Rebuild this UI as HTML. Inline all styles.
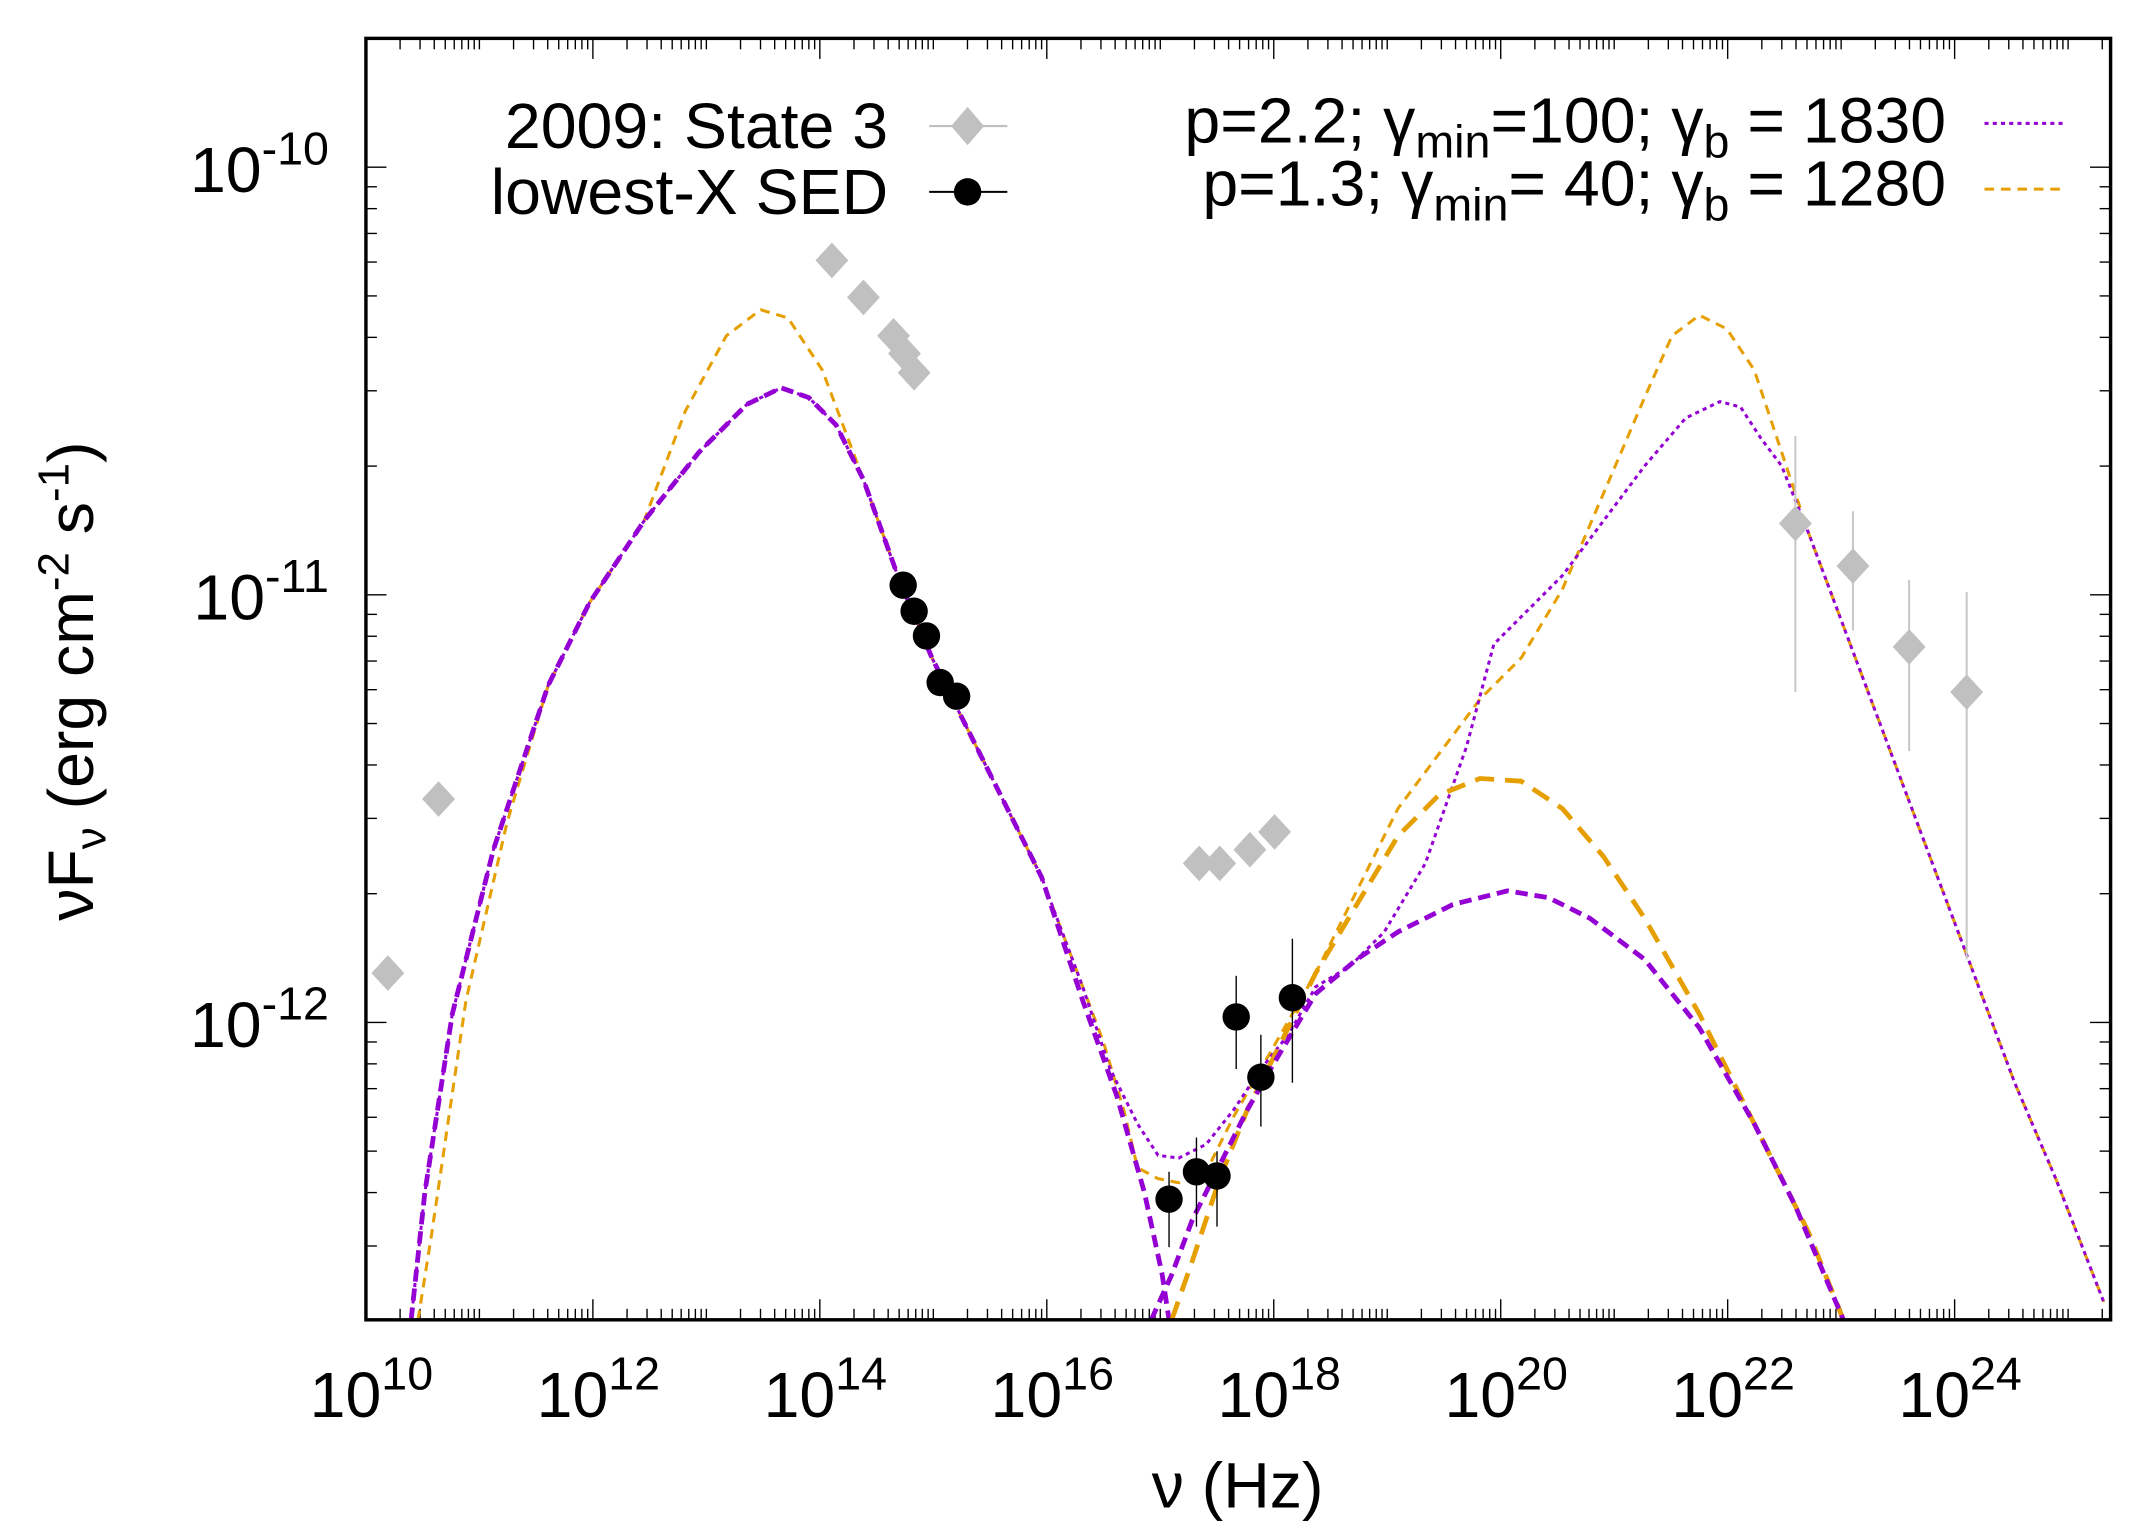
<!DOCTYPE html>
<html><head><meta charset="utf-8"><style>
html,body{margin:0;padding:0;background:#fff}
svg{display:block}
text{font-family:"Liberation Sans",sans-serif;fill:#000}
</style></head><body>
<svg id="s" width="2138" height="1538" viewBox="0 0 1560 1122.2" preserveAspectRatio="none" xmlns="http://www.w3.org/2000/svg">
<g id="ticks" stroke="#000" stroke-width="1"></g>
<g fill="none" stroke-linejoin="round">
<polyline stroke="#e69f00" stroke-width="2.2" stroke-dasharray="7,5" points="305,963 315,900 340,730 370,600 400,500 430,440 470,380 500,300 530,245 555,226 575,232 600,270 630,350 655,420 680,480 700,520 730,580 760,640 790,720 805,760 820,810 830,852 845,860 860,863 880,855 900,815 920,780 960,710 990,650 1020,590 1050,550 1080,510 1110,480 1140,430 1170,360 1200,290 1220,245 1240,230 1260,240 1280,270 1300,330 1320,390 1350,470 1380,550 1410,630 1440,710 1470,790 1500,860 1535,950"/>
<polyline stroke="#9400d3" stroke-width="2.2" stroke-dasharray="3,3" points="300,963 310,870 330,740 360,620 400,500 430,440 470,380 510,330 545,295 570,283 590,290 610,310 630,350 655,420 680,480 700,520 730,580 760,640 790,720 810,780 830,820 845,843 860,845 880,835 900,810 920,780 940,755 960,720 985,705 1010,680 1040,630 1070,545 1090,470 1110,450 1140,420 1170,380 1200,340 1230,305 1255,293 1270,297 1285,320 1300,340 1320,390 1350,470 1380,550 1410,630 1440,710 1470,790 1500,860 1535,950"/>
<polyline stroke="#9400d3" stroke-width="3.5" stroke-dasharray="9,5" points="300,963 310,870 330,740 360,620 400,500 430,440 470,380 510,330 545,295 570,283 590,290 610,310 630,350 655,420 680,480 700,520 730,580 760,640 790,730 815,800 835,870 848,930 853,963"/>
<polyline stroke="#e69f00" stroke-width="3.5" stroke-dasharray="14,8" points="855,963 870,920 890,860 910,810 935,760 960,710 990,660 1020,610 1050,580 1080,568 1110,570 1140,590 1170,625 1200,670 1240,740 1280,820 1320,900 1345,963"/>
<polyline stroke="#9400d3" stroke-width="3.5" stroke-dasharray="9,5" points="840,963 855,930 870,890 890,850 910,810 930,775 960,725 990,700 1020,680 1060,660 1100,650 1130,655 1160,670 1200,700 1240,750 1280,820 1310,880 1345,963"/>
</g>
<g id="data"></g>
<rect x="267" y="28" width="1273" height="935" fill="none" stroke="#000" stroke-width="2.5"/>
<g font-size="47">
<text x="240" y="140" text-anchor="end">10<tspan dy="-20" font-size="34">-10</tspan></text>
<text x="240" y="452" text-anchor="end">10<tspan dy="-20" font-size="34">-11</tspan></text>
<text x="240" y="764" text-anchor="end">10<tspan dy="-20" font-size="34">-12</tspan></text>
<g id="xl"></g>
<text x="903" y="1100" text-anchor="middle">ν (Hz)</text>
<text transform="translate(68,497) rotate(-90)" text-anchor="middle">νF<tspan font-size="32" dy="9">ν</tspan><tspan dy="-9"> (erg cm</tspan><tspan font-size="32" dy="-18">-2</tspan><tspan dy="18"> s</tspan><tspan font-size="32" dy="-18">-1</tspan><tspan dy="18">)</tspan></text>
<text x="648" y="108" text-anchor="end">2009: State 3</text>
<text x="648" y="156" text-anchor="end">lowest-X SED</text>
<text x="1420" y="104" text-anchor="end">p=2.2; γ<tspan font-size="34" dy="11">min</tspan><tspan dy="-11">=100; γ</tspan><tspan font-size="34" dy="11">b</tspan><tspan dy="-11"> = 1830</tspan></text>
<text x="1420" y="150" text-anchor="end">p=1.3; γ<tspan font-size="34" dy="11">min</tspan><tspan dy="-11">= 40; γ</tspan><tspan font-size="34" dy="11">b</tspan><tspan dy="-11"> = 1280</tspan></text>
</g>
<line x1="678" y1="92" x2="735" y2="92" stroke="#c0c0c0" stroke-width="1.5"/>
<polygon points="706,78 718,92 706,106 694,92" fill="#c0c0c0"/>
<line x1="678" y1="140" x2="735" y2="140" stroke="#000" stroke-width="1.5"/>
<circle cx="706" cy="140" r="10"/>
<line x1="1448" y1="90" x2="1505" y2="90" stroke="#9400d3" stroke-width="2.2" stroke-dasharray="3,3"/>
<line x1="1448" y1="138" x2="1505" y2="138" stroke="#e69f00" stroke-width="2.2" stroke-dasharray="7,5"/>
</svg>
<script>
var NS="http://www.w3.org/2000/svg";
function el(p,t,a,txt){var e=document.createElementNS(NS,t);for(var k in a)e.setAttribute(k,a[k]);if(txt)e.innerHTML=txt;p.appendChild(e);return e;}
var tg=document.getElementById("ticks");
function X(l){return 267+82.8*(l-10);}
function Y(l){return 122+312*(-10-l);}
for(var d=10;d<=25;d++){for(var m=1;m<=9;m++){var x=X(d+Math.log10(m));if(x>1540)continue;var L=(m==1&&d%2==0)?15:8;
el(tg,"line",{x1:x,y1:963,x2:x,y2:963-L});el(tg,"line",{x1:x,y1:28,x2:x,y2:28+L});}}
for(var d=-13;d<=-10;d++){for(var m=1;m<=9;m++){var y=Y(d+Math.log10(m));if(y<28||y>963)continue;var L=m==1?15:8;
el(tg,"line",{x1:267,y1:y,x2:267+L,y2:y});el(tg,"line",{x1:1540,y1:y,x2:1540-L,y2:y});}}
var xl=document.getElementById("xl");
for(var d=10;d<=24;d+=2){el(xl,"text",{x:X(d)+4,y:1034,"text-anchor":"middle"},'10<tspan dy="-20" font-size="34">'+d+'</tspan>');}
var dg=document.getElementById("data");
var gd=[[283,710],[320,583],[607,190],[630,217],[652,245],[660,258],[667,272],[875,630],[890,630],[912,620],[930,607],[1310,382,318,505],[1352,413,373,460],[1393,472,423,548],[1435,505,432,700]];
gd.forEach(function(p){if(p[2])el(dg,"line",{x1:p[0],y1:p[2],x2:p[0],y2:p[3],stroke:"#c8c8c8","stroke-width":1.5});
el(dg,"polygon",{points:(p[0])+","+(p[1]-13)+" "+(p[0]+12)+","+p[1]+" "+p[0]+","+(p[1]+13)+" "+(p[0]-12)+","+p[1],fill:"#c0c0c0"});});
var bd=[[659,427],[667,446],[676,464],[686,498],[698,508],[853,875,855,910],[873,855,830,895],[888,858,840,895],[902,742,712,780],[920,786,755,822],[943,728,685,790]];
bd.forEach(function(p){if(p[2])el(dg,"line",{x1:p[0],y1:p[2],x2:p[0],y2:p[3],stroke:"#000","stroke-width":1});
el(dg,"circle",{cx:p[0],cy:p[1],r:10,fill:"#000"});});
</script>
</body></html>
